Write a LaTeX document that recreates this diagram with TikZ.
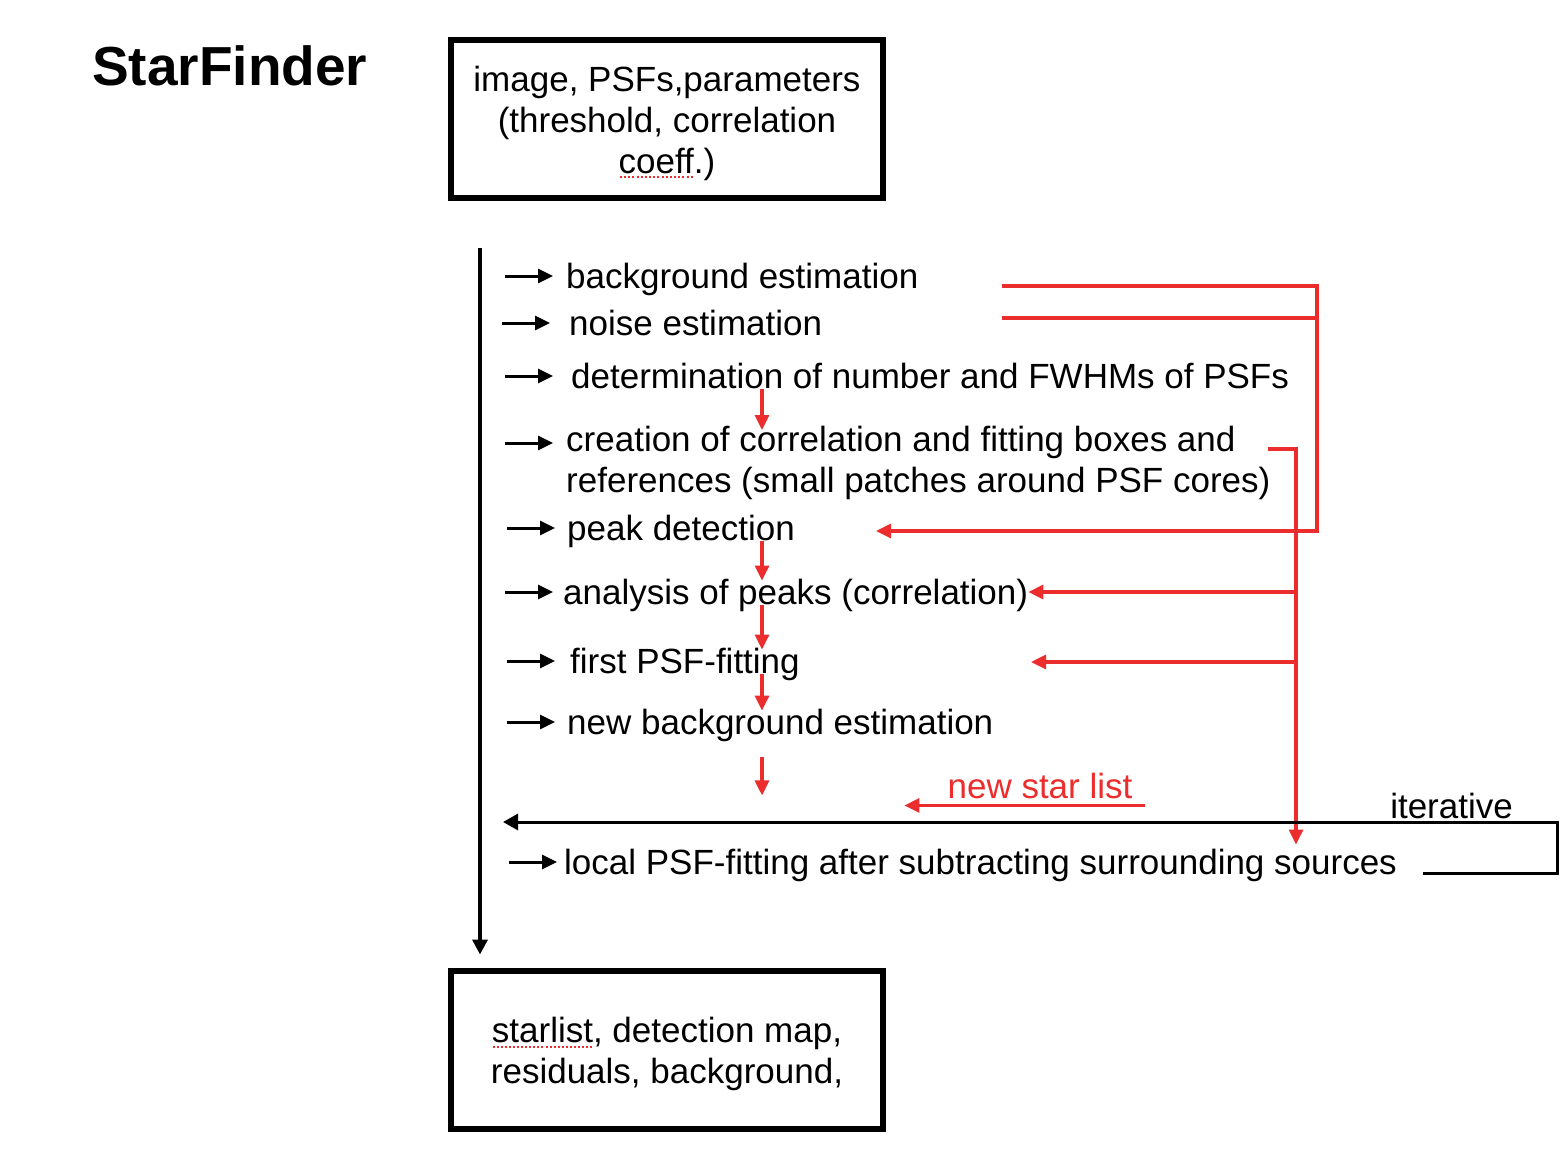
\documentclass[tikz,border=0pt]{standalone}
\usepackage{fontspec}
\setmainfont{Liberation Sans}
\usepackage{xcolor}
\definecolor{sfred}{RGB}{236,45,45}
\usepackage{tikz}
\usetikzlibrary{arrows.meta, positioning, calc, shadows}
\newcommand\stepfont{\fontsize{35}{41}\selectfont}
\newcommand\spellchk[1]{\setbox0\hbox{#1}\rlap{\raisebox{-5pt}{\color{sfred}\hbox to \wd0{\xleaders\hbox to 4pt{\hss\rule{2pt}{2pt}\hss}\hfill}}}\box0}

\begin{document}
\begin{tikzpicture}[x=1pt, y=-1pt,
  io/.style={rectangle, draw, line width=6pt, fill=white, minimum width=432pt,
             minimum height=158pt, align=center, font=\stepfont,
             drop shadow={shadow xshift=1.5pt, shadow yshift=-2.5pt, opacity=0.35}},
  stp/.style={anchor=west, inner sep=0pt, text height=30pt, text depth=4.5pt, font=\stepfont},
  tick/.style={-{Triangle[length=15pt, width=14pt]}, line width=3pt},
  flow/.style={-{Triangle[length=15pt, width=15pt]}, line width=3.5pt},
  rln/.style={draw=sfred, line width=3.2pt},
  rarr/.style={rln, -{Triangle[length=15pt, width=14pt]}, color=sfred},
  dn/.style={rarr, shorten <=-4pt, shorten >=-6pt}
]
\useasboundingbox (0,0) rectangle (1568,1162);

\node[font=\fontsize{55}{64}\selectfont\bfseries, inner sep=0pt, anchor=base west] (title) at (92,85) {StarFinder};

\node[io] (in) at (667,119) {\rule{0pt}{34pt}image, PSFs,parameters\\(threshold, correlation\\\spellchk{coeff}.)};
\node[io] (out) at (667,1049.5) {\rule{0pt}{35pt}\spellchk{starlist}, detection map,\\residuals, background,};

\node[stp] (s1) at (566,276) {background estimation};
\node[stp] (s2) at (569,323) {noise estimation};
\node[stp] (s3) at (571,376) {determination of number and FWHMs of PSFs};
\node[stp, anchor=north west, align=left, text height=, text depth=] (s4) at (566,425.5)
  {creation of correlation and fitting boxes and\\references (small patches around PSF cores)};
\node[stp] (s5) at (567,528) {peak detection};
\node[stp] (s6) at (563,592) {analysis of peaks (correlation)};
\node[stp] (s7) at (570,661) {first PSF-fitting};
\node[stp] (s8) at (567,722) {new background estimation};
\node[stp] (s9) at (564,862) {local PSF-fitting after subtracting surrounding sources};
\node[stp, anchor=center, text=sfred] (nsl) at (1040,786) {new star list};
\node[stp, anchor=base east] (iter) at (1513,818) {iterative};

\coordinate (vtop) at (480,248);
\coordinate (dnx) at (762,0);
\coordinate (bgo) at (1002,286);
\coordinate (nzo) at (1002,318);
\coordinate (ja) at (1317,531);
\coordinate (pkin) at (876,531);
\coordinate (cro) at (1268,449);
\coordinate (jb) at (1296,0);
\coordinate (fitin) at (1031,662);
\coordinate (lpa) at (1423,873);
\coordinate (lpb) at (1557,822);
\coordinate (lpe) at (503,822);

\draw[flow, shorten >=13pt] (vtop) -- (out.north -| vtop);

\foreach \s/\g in {s1/13, s2/19, s3/18, s5/12, s6/10, s7/15, s8/12, s9/7}
  \draw[tick] ([xshift=-\g pt-48pt]\s.west) -- ([xshift=-\g pt]\s.west);
\draw[tick] ([xshift=-61pt, yshift=-17.5pt]s4.north west) -- ([xshift=-13pt, yshift=-17.5pt]s4.north west);

\draw[dn, shorten >=-4.5pt] (s3.south -| dnx) -- (s4.north -| dnx);
\draw[dn] (s5.south -| dnx) -- (s6.north -| dnx);
\draw[dn] (s6.south -| dnx) -- (s7.north -| dnx);
\draw[dn] (s7.south -| dnx) -- (s8.north -| dnx);
\draw[rarr] (s8.south -| dnx) ++(0,18) -- ++(0,38);

\draw[rarr] (bgo) -| (ja) -- (pkin);
\draw[rln] (nzo) -- (nzo -| ja);
\draw[rarr] (cro) -| (s9.north -| jb);
\draw[rarr] (s6.east -| jb) -- (s6.east);
\draw[rarr] (fitin -| jb) -- (fitin);
\draw[rarr] ([xshift=12pt, yshift=-2pt]nsl.south east) -- ([xshift=-43pt, yshift=-2pt]nsl.south west);

\draw[flow, line width=3pt, -{Triangle[length=15pt, width=16pt]}] (lpa) -| (lpb) -- (lpe);
\end{tikzpicture}
\end{document}
